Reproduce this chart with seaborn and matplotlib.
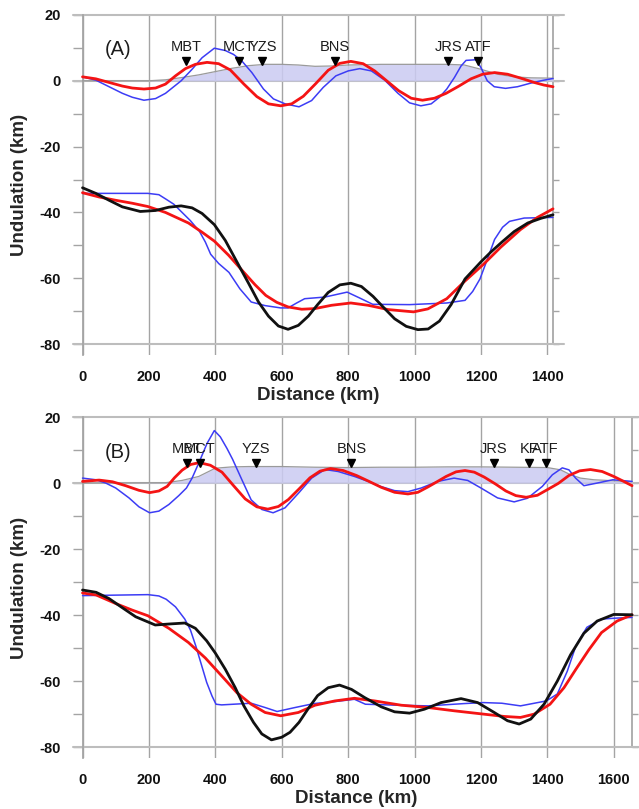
import numpy as np
import matplotlib
matplotlib.use("Agg")
import matplotlib.pyplot as plt
import seaborn as sns
from matplotlib.ticker import MultipleLocator

# ---------------- panel A ----------------
a_topo_x = [0, 200, 250, 300, 350, 400, 450, 500, 550, 600, 650, 700, 750, 800, 900,
            1000, 1100, 1150, 1200, 1250, 1300, 1350, 1417]
a_topo_y = [0, 0, 0.3, 1.0, 1.8, 2.8, 3.8, 4.6, 5.0, 5.0, 4.8, 4.4, 4.5, 4.8, 5.0,
            5.0, 5.0, 4.8, 3.5, 2.0, 1.2, 0.9, 0.8]

a_red_up_x = [0, 40, 80, 120, 150, 185, 220, 250, 280, 310, 340, 375, 410, 445, 486, 525,
              560, 597, 630, 665, 702, 740, 775, 808, 845, 880, 916, 952, 990, 1024, 1060,
              1095, 1132, 1170, 1205, 1241, 1280, 1320, 1360, 1390, 1417]
a_red_up_y = [1.2, 0.6, -0.5, -1.6, -2.2, -2.5, -2.2, -1.0, 1.5, 3.7, 5.0, 5.6, 5.2, 3.3, -1.0, -4.8,
              -7.0, -7.6, -7.0, -4.7, -0.9, 3.2, 5.3, 5.9, 5.2, 3.0, 0.0, -3.0, -5.3, -5.9, -5.3,
              -3.8, -1.7, 0.6, 2.0, 2.5, 2.0, 0.8, -0.5, -1.3, -1.8]

a_blue_up_x = [0, 40, 80, 120, 150, 185, 220, 250, 297, 330, 360, 397, 430, 455, 480, 510, 545,
               575, 610, 652, 690, 725, 763, 800, 835, 870, 910, 950, 985, 1019, 1050, 1075,
               1097, 1120, 1140, 1155, 1185, 1200, 1219, 1240, 1274, 1310, 1350, 1385, 1417]
a_blue_up_y = [1.2, 0.2, -1.8, -3.8, -5.0, -5.9, -5.4, -3.8, 0.0, 3.5, 7.0, 9.9, 9.2, 8.0, 6.0, 2.5, -2.5,
               -5.5, -7.0, -7.9, -6.0, -2.0, 1.5, 3.0, 3.7, 3.0, 0.2, -3.8, -6.7, -7.6, -7.0, -5.0,
               -2.5, 1.0, 4.5, 6.2, 6.4, 4.0, 0.0, -1.8, -2.3, -1.8, -0.7, 0.1, 0.7]

a_black_x = [0, 40, 80, 120, 174, 220, 260, 297, 330, 360, 397, 430, 474, 500, 530, 560, 590,
             619, 650, 680, 708, 740, 775, 808, 840, 875, 908, 940, 975, 1010, 1041, 1075,
             1110, 1152, 1200, 1230, 1263, 1300, 1341, 1380, 1417]
a_black_y = [-32.5, -34.2, -36.3, -38.3, -39.7, -39.4, -38.4, -38.0, -38.6, -40.3, -43.7, -48.5, -56.7,
             -61.5, -67.2, -71.5, -74.5, -75.5, -74.3, -71.5, -68.0, -64.3, -62.0, -61.5, -62.5,
             -65.5, -69.0, -72.3, -74.6, -75.6, -75.4, -73.0, -68.0, -60.2, -55.0, -52.0, -49.0,
             -45.8, -43.2, -41.8, -40.7]

a_red_lo_x = [0, 50, 100, 150, 197, 250, 319, 360, 397, 440, 486, 520, 552, 585, 619, 660, 700,
              750, 808, 860, 920, 997, 1040, 1097, 1150, 1208, 1260, 1319, 1370, 1417]
a_red_lo_y = [-34.0, -35.3, -36.3, -37.2, -38.2, -40.0, -43.2, -46.0, -48.7, -53.0, -58.2, -62.0,
              -65.2, -67.3, -68.7, -69.4, -69.2, -68.2, -67.5, -68.2, -69.5, -70.2, -69.3, -66.2,
              -61.0, -55.7, -50.5, -45.2, -41.5, -38.9]

a_blue_lo_x = [0, 197, 230, 252, 275, 297, 325, 352, 370, 386, 410, 441, 474, 508, 550, 597, 619,
               645, 669, 730, 797, 835, 874, 985, 1097, 1152, 1175, 1197, 1220, 1241, 1265, 1286,
               1330, 1417]
a_blue_lo_y = [-34.2, -34.2, -34.6, -36.0, -37.5, -39.7, -42.5, -45.7, -49.0, -52.7, -55.5, -58.2,
               -63.2, -67.2, -68.3, -69.0, -69.0, -67.5, -66.2, -65.7, -64.2, -66.0, -67.9, -68.0,
               -67.5, -66.7, -64.0, -60.2, -54.0, -48.2, -44.5, -42.7, -41.7, -41.5]

a_fault_names = ["MBT", "MCT", "YZS", "BNS", "JRS", "ATF"]
a_fault_x = [312, 471, 542, 761, 1102, 1192]

# ---------------- panel B ----------------
b_topo_x = [0, 250, 300, 350, 380, 400, 450, 500, 600, 700, 800, 900, 1000, 1100, 1200,
            1300, 1400, 1440, 1470, 1500, 1540, 1600, 1655]
b_topo_y = [0, 0.1, 0.8, 2.0, 3.5, 4.5, 4.9, 5.0, 5.0, 4.8, 4.7, 4.8, 4.8, 4.9, 4.9,
            4.8, 4.7, 4.0, 2.5, 1.5, 1.0, 0.7, 0.4]

b_red_up_x = [0, 50, 90, 130, 170, 202, 230, 255, 277, 300, 325, 352, 385, 420, 455, 490, 525,
              558, 590, 620, 652, 685, 715, 747, 785, 825, 863, 900, 940, 980, 1010, 1040, 1066,
              1095, 1125, 1152, 1180, 1210, 1244, 1275, 1305, 1336, 1370, 1400, 1433, 1465,
              1497, 1530, 1565, 1600, 1630, 1655]
b_red_up_y = [0.5, 0.9, 0.4, -0.8, -2.2, -2.9, -2.4, -1.0, 1.6, 3.9, 5.6, 6.2, 5.4, 3.3, -0.8, -4.8, -7.2,
              -7.9, -7.1, -5.0, -1.8, 1.6, 3.6, 4.4, 3.8, 2.3, 0.5, -1.3, -2.8, -3.3, -2.8, -1.2, 0.3,
              2.0, 3.4, 3.8, 3.3, 1.8, -0.3, -2.4, -3.8, -4.3, -3.7, -2.0, -0.1, 2.3,
              3.7, 4.1, 3.5, 2.0, 0.5, -0.8]

b_blue_up_x = [0, 40, 70, 100, 140, 170, 202, 230, 260, 290, 313, 330, 352, 375, 397, 415, 435,
               452, 480, 508, 540, 574, 610, 652, 690, 730, 770, 819, 860, 897, 940, 980, 1020,
               1070, 1119, 1160, 1200, 1250, 1300, 1340, 1385, 1415, 1445, 1465, 1485, 1510,
               1550, 1597, 1655]
b_blue_up_y = [1.5, 1.0, 0.0, -1.5, -4.5, -7.2, -9.0, -8.5, -6.5, -3.8, -1.5, 1.5, 6.5, 12.0, 15.9, 14.0, 10.5,
               7.2, 1.0, -5.1, -8.0, -9.0, -7.5, -2.9, 1.5, 4.1, 3.5, 2.0, 0.5, -1.0, -2.3, -2.6, -1.5,
               0.5, 1.5, 0.8, -1.5, -4.5, -5.7, -4.6, -1.0, 2.5, 4.6, 4.0, 1.5, -0.8,
               0.0, 1.0, 0.5]

b_black_x = [0, 41, 80, 119, 160, 219, 260, 308, 340, 374, 400, 430, 460, 486, 515, 540, 569,
             600, 625, 652, 680, 708, 740, 774, 810, 850, 900, 940, 985, 1030, 1080, 1140, 1190,
             1240, 1280, 1315, 1350, 1390, 1430, 1470, 1510, 1550, 1600, 1655]
b_black_y = [-32.4, -33.1, -35.0, -37.7, -40.5, -43.0, -42.7, -42.4, -44.0, -47.8, -51.5, -56.4,
             -62.0, -67.5, -72.5, -76.0, -77.8, -77.0, -75.5, -72.5, -68.3, -64.4, -62.0, -61.2,
             -62.5, -65.0, -67.8, -69.3, -69.7, -68.5, -66.5, -65.3, -66.5, -69.5, -72.0, -73.0,
             -71.5, -67.0, -60.0, -52.0, -45.5, -41.8, -39.8, -39.9]

b_red_lo_x = [0, 41, 100, 150, 197, 260, 319, 370, 419, 465, 508, 550, 597, 650, 700, 760, 819,
              880, 960, 1041, 1120, 1208, 1270, 1319, 1360, 1408, 1450, 1486, 1525, 1563, 1610, 1655]
b_red_lo_y = [-33.3, -33.9, -36.5, -38.5, -40.2, -44.0, -48.3, -53.0, -58.4, -63.5, -67.0, -69.5,
              -70.5, -69.5, -67.3, -66.0, -65.2, -66.0, -67.3, -68.0, -69.0, -70.0, -70.7, -71.0,
              -70.0, -67.0, -62.0, -56.4, -50.5, -45.3, -41.8, -39.9]

b_blue_lo_x = [0, 197, 230, 252, 280, 308, 325, 341, 358, 374, 390, 402, 419, 508, 550, 586, 640,
               697, 760, 819, 852, 950, 1041, 1150, 1208, 1263, 1319, 1397, 1430, 1460, 1486, 1519,
               1563, 1610, 1655]
b_blue_lo_y = [-34.1, -33.8, -34.2, -35.2, -37.5, -41.2, -44.5, -49.3, -55.0, -60.4, -64.5, -67.0,
               -67.2, -66.7, -68.0, -69.2, -68.0, -66.8, -66.2, -65.5, -67.0, -67.3, -67.5, -66.8,
               -66.5, -66.7, -67.5, -66.0, -63.9, -57.0, -49.3, -43.7, -41.2, -40.9, -40.7]

b_fault_names = ["MBT", "MCT", "YZS", "BNS", "JRS", "KF", "ATF"]
b_fault_x = [316, 354, 522, 810, 1239, 1346, 1395]

# ---------------- style ----------------
sns.set_theme(style="white")
plt.rcParams["font.family"] = ["Liberation Sans", "DejaVu Sans"]
plt.rcParams["axes.unicode_minus"] = False

GRID = "#a4a4a4"
HLINE = "#bdbdbd"
FILL = "#cbcbf2"
RED = "#f41414"
BLUE = "#3c3cf5"
BLACK = "#111111"


def draw_panel(ax, tag, xmax, data_end, xtick_max, topo, red_up, blue_up,
               black_lo, red_lo, blue_lo, fault_names, fault_x):
    xmin = -29.5
    ax.set_xlim(xmin, xmax)
    ax.set_ylim(-83.3, 20)
    for s in ax.spines.values():
        s.set_visible(False)

    # frame lines
    for yv in (20, 0, -80):
        ax.axhline(yv, color=HLINE, lw=1.5, zorder=1, clip_on=False)
    ax.set_xticks(np.arange(0, xtick_max + 1, 200))
    ax.grid(axis="x", color=GRID, lw=1.0, zorder=1)
    ax.grid(axis="y", visible=False)
    ax.set_axisbelow(True)

    ax.spines["left"].set_visible(True)
    ax.spines["left"].set_position(("data", 0))
    ax.spines["left"].set_color(GRID)
    ax.yaxis.set_ticks_position("left")
    ax.set_yticks(np.arange(-80, 21, 20))
    ax.yaxis.set_minor_locator(MultipleLocator(10))
    ax.tick_params(axis="y", which="both", direction="out", length=7.5, width=1,
                   color=GRID, labelsize=10.5, pad=8, labelcolor="#111111")
    ax.tick_params(axis="x", length=0, pad=11, labelsize=10.5, labelcolor="#111111")
    plt.setp(ax.get_xticklabels() + ax.get_yticklabels(), fontweight="bold")

    # right edge with short ticks
    frac = (data_end - xmin) / (xmax - xmin)
    sec = ax.secondary_yaxis(frac)
    sec.spines["right"].set_color(GRID)
    sec.spines["right"].set_bounds(-80, 20)
    sec.set_yticks(np.arange(-80, 21, 20))
    sec.yaxis.set_minor_locator(MultipleLocator(10))
    sec.tick_params(axis="y", which="both", direction="out", length=4, width=1,
                    color=GRID, labelright=False, labelleft=False)

    # topography
    ax.fill_between(topo[0], 0, topo[1], color=FILL, alpha=0.85, lw=0, zorder=2)
    sns.lineplot(x=topo[0], y=topo[1], ax=ax, color="#9a9a9a", lw=0.9, zorder=3,
                 estimator=None, sort=False)

    for (xs, ys), col, lw in [(blue_up, BLUE, 1.1), (red_up, RED, 2.0),
                              (blue_lo, BLUE, 1.1), (red_lo, RED, 2.0),
                              (black_lo, BLACK, 2.0)]:
        sns.lineplot(x=xs, y=ys, ax=ax, color=col, lw=lw, zorder=4,
                     estimator=None, sort=False)

    # faults
    ax.plot(fault_x, [6.1] * len(fault_x), "v", color="black", ms=5.5, zorder=5)
    for name, fx in zip(fault_names, fault_x):
        ax.text(fx, 8.1, name, ha="center", va="bottom", fontsize=10.5,
                color="#1c1c1c", zorder=6)
    ax.text(108, 9.4, tag, ha="center", va="center", fontsize=14.5, color="#1c1c1c")

    ax.set_xlabel("Distance (km)", fontsize=13.5, fontweight="bold", labelpad=2)
    ax.set_ylabel("Undulation (km)", fontsize=13.5, fontweight="bold", labelpad=8)


fig = plt.figure(figsize=(6.39, 8.09), dpi=100)
ax1 = fig.add_axes([0.1138, 0.5612, 0.7688, 0.4203])
ax2 = fig.add_axes([0.1138, 0.0630, 0.8862, 0.4215])

draw_panel(ax1, "(A)", 1450, 1417, 1400,
           (a_topo_x, a_topo_y), (a_red_up_x, a_red_up_y), (a_blue_up_x, a_blue_up_y),
           (a_black_x, a_black_y), (a_red_lo_x, a_red_lo_y), (a_blue_lo_x, a_blue_lo_y),
           a_fault_names, a_fault_x)
draw_panel(ax2, "(B)", 1676, 1655, 1600,
           (b_topo_x, b_topo_y), (b_red_up_x, b_red_up_y), (b_blue_up_x, b_blue_up_y),
           (b_black_x, b_black_y), (b_red_lo_x, b_red_lo_y), (b_blue_lo_x, b_blue_lo_y),
           b_fault_names, b_fault_x)

fig.savefig("out.png", dpi=100)
